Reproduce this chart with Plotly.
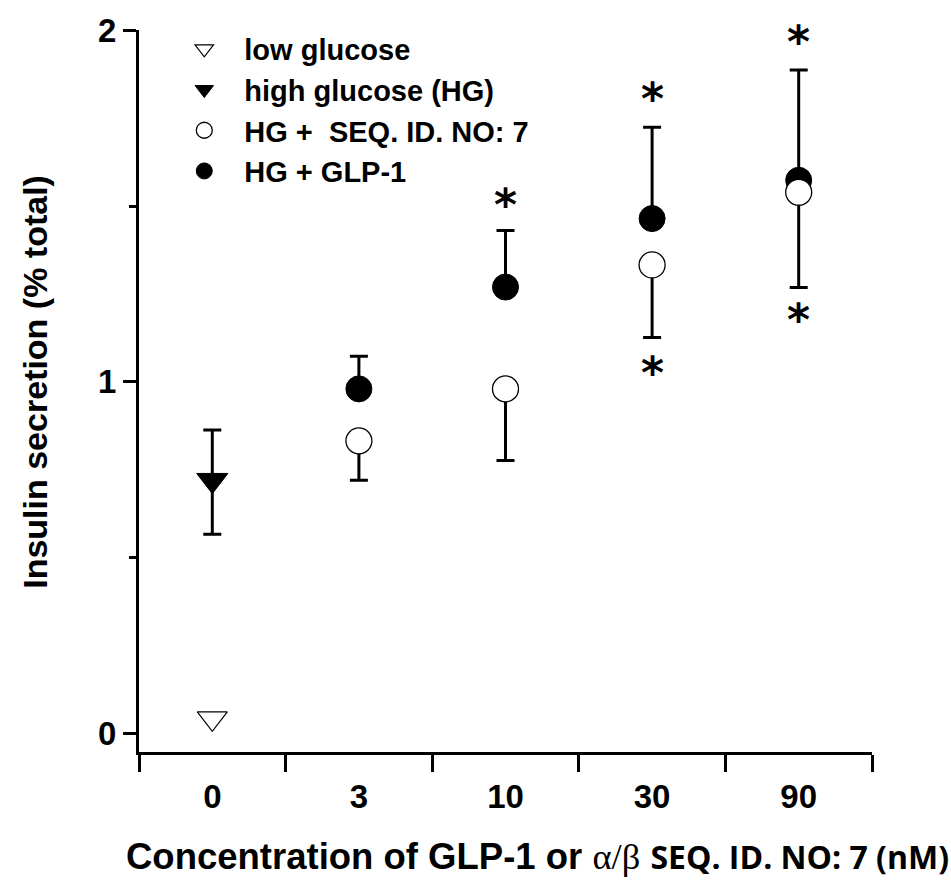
import plotly.graph_objects as go

# ---------------- data ----------------
categories = ["0", "3", "10", "30", "90"]

low_x = ["0"]
low_y = [0.042]

hg_x = ["0"]
hg_y = [0.72]
hg_err_plus = [0.143]
hg_err_minus = [0.154]

seq_x = ["3", "10", "30", "90"]
seq_y = [0.832, 0.98, 1.333, 1.54]
seq_err_minus = [0.112, 0.204, 0.207, 0.271]

glp_x = ["3", "10", "30", "90"]
glp_y = [0.98, 1.27, 1.465, 1.574]
glp_err_plus = [0.093, 0.161, 0.26, 0.314]

star_x = ["10", "30", "30", "90", "90"]
star_y = [1.515, 1.815, 1.036, 1.978, 1.185]

y_ticks = [0, 1, 2]
y_minor = [0.5, 1.5]

SANS = "Liberation Sans, Arial, sans-serif"

fig = go.Figure()

fig.add_trace(go.Scatter(
    x=low_x, y=low_y, mode="markers", name="low glucose", legendrank=1,
    marker=dict(symbol="triangle-down", size=26, color="white",
                line=dict(color="black", width=1.2)),
))
fig.add_trace(go.Scatter(
    x=hg_x, y=hg_y, mode="markers", name="high glucose (HG)", legendrank=2,
    marker=dict(symbol="triangle-down", size=27, color="black",
                line=dict(color="black", width=1)),
    error_y=dict(type="data", symmetric=False, array=hg_err_plus,
                 arrayminus=hg_err_minus, color="black", thickness=3, width=9),
))
fig.add_trace(go.Scatter(
    x=glp_x, y=glp_y, mode="markers", name="HG + GLP-1", legendrank=4,
    marker=dict(symbol="circle", size=26, color="black",
                line=dict(color="black", width=1)),
    error_y=dict(type="data", symmetric=False, array=glp_err_plus,
                 arrayminus=[0] * len(glp_y), color="black", thickness=3, width=9),
))
fig.add_trace(go.Scatter(
    x=seq_x, y=seq_y, mode="markers", name="HG +  SEQ. ID. NO: 7", legendrank=3,
    marker=dict(symbol="circle", size=26, color="white",
                line=dict(color="black", width=1.3)),
    error_y=dict(type="data", symmetric=False, array=[0] * len(seq_y),
                 arrayminus=seq_err_minus, color="black", thickness=3, width=9),
))

for sx, sy in zip(star_x, star_y):
    fig.add_annotation(x=categories.index(sx), y=sy, xref="x", yref="y",
                       text="<b>*</b>", showarrow=False,
                       font=dict(family="DejaVu Sans", size=44, color="black"),
                       yshift=-3)

# axis titles as annotations for exact placement
fig.add_annotation(
    xref="paper", yref="paper", x=0.543, y=-0.1446, showarrow=False,
    xanchor="center", yanchor="middle",
    text="<b>Concentration of GLP-1 or </b><span style=\"font-family:Liberation Serif\">α/β</span> "
         "<b><span style=\"font-family:Open Sans;font-size:32px\">SEQ. ID. NO: 7 (nM)</span></b>",
    font=dict(family=SANS, size=36.5, color="black"),
)
fig.add_annotation(
    xref="paper", yref="paper", x=-0.143, y=0.513, showarrow=False,
    xanchor="center", yanchor="middle", textangle=-90,
    text="<b>Insulin secretion (% total)</b>",
    font=dict(family=SANS, size=34, color="black"),
)

fig.update_layout(
    width=951, height=882,
    margin=dict(l=139, r=79, t=19, b=130),
    paper_bgcolor="white", plot_bgcolor="white",
    showlegend=True,
    legend=dict(x=0.0345, y=1.009, xanchor="left", yanchor="top",
                bgcolor="rgba(0,0,0,0)", tracegroupgap=0, itemwidth=70,
                font=dict(family=SANS, size=29, color="black", weight="bold"),
                itemsizing="trace"),
    xaxis=dict(
        type="category", categoryorder="array", categoryarray=categories,
        range=[-0.5, 4.5], tickson="boundaries",
        showline=True, linecolor="black", linewidth=3,
        ticks="outside", ticklen=17, tickwidth=3, tickcolor="black",
        ticklabelstandoff=13,
        showgrid=False, zeroline=False,
        tickfont=dict(family=SANS, size=33, color="black", weight="bold"),
    ),
    yaxis=dict(
        range=[-0.054, 2.002], tickmode="array", tickvals=y_ticks,
        showline=True, linecolor="black", linewidth=3,
        ticks="outside", ticklen=13, tickwidth=3, tickcolor="black",
        showgrid=False, zeroline=False,
        tickfont=dict(family=SANS, size=33, color="black", weight="bold"),
        minor=dict(tickmode="array", tickvals=y_minor, ticks="outside",
                   ticklen=7, tickwidth=3, tickcolor="black", showgrid=False),
    ),
)

fig.write_html(
    "out.html",
    config={"displayModeBar": False},
    post_script="document.body.style.margin='0';document.body.style.overflow='hidden';",
)
